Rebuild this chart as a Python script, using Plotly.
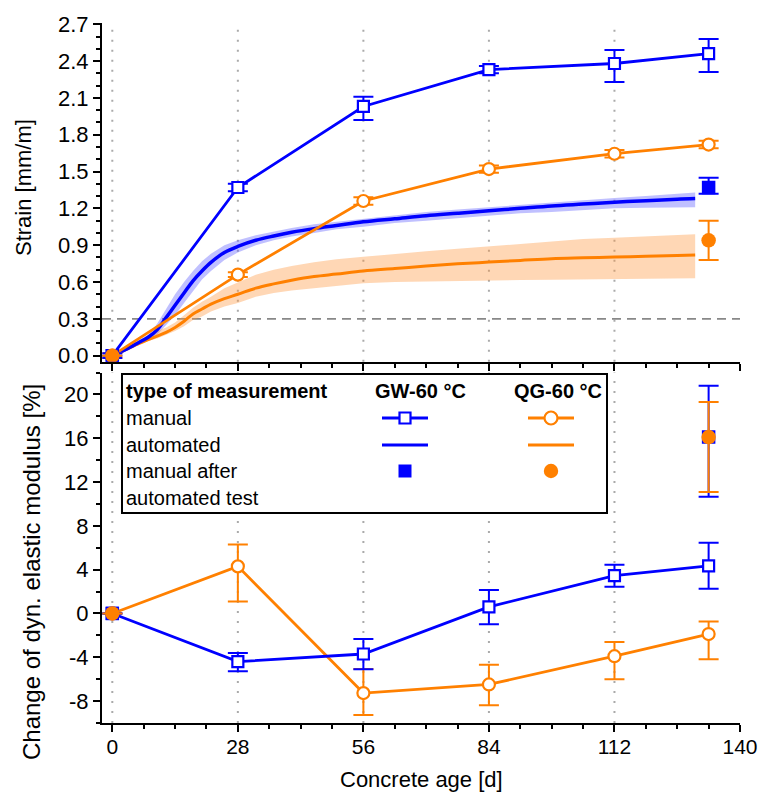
import plotly.graph_objects as go

# ---------------- data ----------------
manual_days = [0, 28, 56, 84, 112, 133]
gw_strain = [0.0, 1.37, 2.03, 2.33, 2.38, 2.46]
gw_strain_plus = [0.02, 0.03, 0.08, 0.03, 0.11, 0.12]
gw_strain_minus = [0.02, 0.03, 0.11, 0.03, 0.15, 0.15]
qg_strain = [0.0, 0.66, 1.26, 1.52, 1.645, 1.72]
qg_strain_err = [0.02, 0.02, 0.03, 0.03, 0.03, 0.03]

after_days = [0, 133]
gw_after_strain = [0.0, 1.37]
gw_after_strain_plus = [0.0, 0.08]
gw_after_strain_minus = [0.0, 0.05]
qg_after_strain = [0.0, 0.94]
qg_after_strain_err = [0.0, 0.16]

auto_days = [0, 3, 6, 8, 10, 12, 14, 16, 18, 20, 22, 25, 28, 32, 36, 40, 45, 50,
             56, 63, 70, 77, 84, 91, 98, 105, 112, 119, 126, 130]
gw_auto = [0.0, 0.05, 0.11, 0.15, 0.21, 0.31, 0.41, 0.51, 0.61, 0.69, 0.76, 0.84, 0.89,
           0.94, 0.975, 1.005, 1.035, 1.06, 1.09, 1.115, 1.14, 1.16, 1.18, 1.2, 1.22,
           1.235, 1.25, 1.262, 1.275, 1.28]
gw_auto_hi = [0.0, 0.06, 0.13, 0.17, 0.26, 0.38, 0.5, 0.6, 0.69, 0.77, 0.83, 0.9, 0.94,
              0.98, 1.01, 1.04, 1.07, 1.09, 1.12, 1.145, 1.17, 1.19, 1.21, 1.23, 1.25,
              1.27, 1.285, 1.3, 1.32, 1.33]
gw_auto_lo = [0.0, 0.04, 0.1, 0.14, 0.17, 0.25, 0.33, 0.43, 0.53, 0.62, 0.69, 0.78, 0.84,
              0.9, 0.94, 0.97, 1.0, 1.03, 1.05, 1.08, 1.1, 1.12, 1.14, 1.16, 1.17,
              1.185, 1.2, 1.205, 1.21, 1.21]
qg_auto = [0.0, 0.05, 0.1, 0.13, 0.16, 0.19, 0.23, 0.28, 0.34, 0.38, 0.42, 0.465, 0.5,
           0.55, 0.585, 0.615, 0.645, 0.665, 0.69, 0.71, 0.73, 0.748, 0.762, 0.776, 0.79,
           0.797, 0.803, 0.81, 0.816, 0.82]
qg_auto_hi = [0.0, 0.06, 0.12, 0.15, 0.2, 0.23, 0.27, 0.33, 0.39, 0.44, 0.48, 0.55, 0.6,
              0.66, 0.7, 0.73, 0.76, 0.785, 0.805, 0.83, 0.85, 0.87, 0.89, 0.91, 0.93,
              0.95, 0.96, 0.97, 0.98, 0.99]
qg_auto_lo = [0.0, 0.04, 0.09, 0.12, 0.14, 0.17, 0.2, 0.24, 0.29, 0.32, 0.36, 0.4, 0.43,
              0.48, 0.51, 0.53, 0.55, 0.57, 0.59, 0.6, 0.605, 0.61, 0.615, 0.616, 0.618,
              0.62, 0.625, 0.627, 0.63, 0.63]

gw_emod = [0.0, -4.4, -3.7, 0.6, 3.45, 4.35]
gw_emod_plus = [0.0, 0.8, 1.37, 1.55, 1.0, 2.1]
gw_emod_minus = [0.0, 0.87, 1.4, 1.58, 1.0, 2.1]
qg_emod = [0.0, 4.3, -7.27, -6.48, -3.9, -1.88]
qg_emod_plus = [0.0, 2.0, 2.2, 1.8, 1.3, 1.15]
qg_emod_minus = [0.0, 3.2, 2.0, 1.9, 2.1, 2.3]

gw_after_emod = [0.0, 16.1]
gw_after_emod_plus = [0.0, 4.7]
gw_after_emod_minus = [0.0, 5.45]
qg_after_emod = [0.0, 16.1]
qg_after_emod_plus = [0.0, 3.2]
qg_after_emod_minus = [0.0, 5.0]

day_ticks = [0, 28, 56, 84, 112, 140]
grid_days = [0, 28, 56, 84, 112]
emod_ticks = [-8, -4, 0, 4, 8, 12, 16, 20]
emod_ticktext = ["-8", "-4", "0", "4", "8", "12", "16", "20"]
emod_minor = [-10, -6, -2, 2, 6, 10, 14, 18, 22]
threshold = 0.3

# ---------------- style ----------------
BLUE = "#0000FF"
ORANGE = "#FF8000"
FONT = "Liberation Sans, Arial, sans-serif"

fig = go.Figure()

# top panel: bands
fig.add_trace(go.Scatter(x=auto_days, y=gw_auto_lo, mode="lines", line=dict(width=0),
                         showlegend=False, xaxis="x2", yaxis="y2", hoverinfo="skip"))
fig.add_trace(go.Scatter(x=auto_days, y=gw_auto_hi, mode="lines", line=dict(width=0),
                         fill="tonexty", fillcolor="rgba(90,90,255,0.38)",
                         showlegend=False, xaxis="x2", yaxis="y2", hoverinfo="skip"))
fig.add_trace(go.Scatter(x=auto_days, y=qg_auto_lo, mode="lines", line=dict(width=0),
                         showlegend=False, xaxis="x2", yaxis="y2", hoverinfo="skip"))
fig.add_trace(go.Scatter(x=auto_days, y=qg_auto_hi, mode="lines", line=dict(width=0),
                         fill="tonexty", fillcolor="rgba(255,150,60,0.38)",
                         showlegend=False, xaxis="x2", yaxis="y2", hoverinfo="skip"))
# automated lines
fig.add_trace(go.Scatter(x=auto_days, y=qg_auto, mode="lines",
                         line=dict(color=ORANGE, width=3, shape="spline"),
                         showlegend=False, xaxis="x2", yaxis="y2"))
fig.add_trace(go.Scatter(x=auto_days, y=gw_auto, mode="lines",
                         line=dict(color=BLUE, width=3.5, shape="spline"),
                         showlegend=False, xaxis="x2", yaxis="y2"))


def manual_trace(x, y, color, symbol, size, plus, minus, xa, ya):
    ed = dict(type="data", symmetric=False, array=plus, arrayminus=minus,
              color=color, thickness=2, width=10, visible=True)
    return go.Scatter(x=x, y=y, mode="lines+markers",
                      line=dict(color=color, width=2.8),
                      marker=dict(symbol=symbol, size=size, color="white",
                                  line=dict(color=color, width=2.2)),
                      error_y=ed, showlegend=False, xaxis=xa, yaxis=ya)


def after_trace(x, y, color, symbol, size, plus, minus, xa, ya):
    return go.Scatter(x=x, y=y, mode="markers",
                      marker=dict(symbol=symbol, size=size, color=color,
                                  line=dict(width=0)),
                      error_y=dict(type="data", symmetric=False, array=plus,
                                   arrayminus=minus, color=color, thickness=2, width=10),
                      showlegend=False, xaxis=xa, yaxis=ya)


fig.add_trace(manual_trace(manual_days, qg_strain, ORANGE, "circle", 12,
                           qg_strain_err, qg_strain_err, "x2", "y2"))
fig.add_trace(manual_trace(manual_days, gw_strain, BLUE, "square", 11,
                           gw_strain_plus, gw_strain_minus, "x2", "y2"))
fig.add_trace(after_trace(after_days, gw_after_strain, BLUE, "square", 13.5,
                          gw_after_strain_plus, gw_after_strain_minus, "x2", "y2"))
fig.add_trace(after_trace(after_days, qg_after_strain, ORANGE, "circle", 14.5,
                          qg_after_strain_err, qg_after_strain_err, "x2", "y2"))

# bottom panel
fig.add_trace(manual_trace(manual_days, qg_emod, ORANGE, "circle", 12,
                           qg_emod_plus, qg_emod_minus, "x", "y"))
fig.add_trace(manual_trace(manual_days, gw_emod, BLUE, "square", 11,
                           gw_emod_plus, gw_emod_minus, "x", "y"))
fig.add_trace(after_trace(after_days, gw_after_emod, BLUE, "square", 13.5,
                          gw_after_emod_plus, gw_after_emod_minus, "x", "y"))
fig.add_trace(after_trace(after_days, qg_after_emod, ORANGE, "circle", 14.5,
                          qg_after_emod_plus, qg_after_emod_minus, "x", "y"))

# ---------------- geometry helpers (pixel -> paper) ----------------
L, R, T, B = 102, 18, 23, 70
W, H = 758, 793
PW, PH = W - L - R, H - T - B


def px(p):
    return (p - L) / PW


def py(p):
    return (H - B - p) / PH


axis_common = dict(showline=True, linecolor="black", linewidth=2, ticks="outside",
                   tickcolor="black", tickwidth=2, ticklen=7, showgrid=False,
                   zeroline=False, mirror=False)

x_range = [-2.3, 140.0]
fig.update_layout(
    width=W, height=H,
    margin=dict(l=L, r=R, t=T, b=B, pad=0, autoexpand=False),
    plot_bgcolor="white", paper_bgcolor="white",
    font=dict(family=FONT, size=22, color="black"),
    showlegend=False,
    xaxis=dict(range=x_range, tickvals=day_ticks, anchor="y",
               ticklabelstandoff=-3,
               minor=dict(dtick=7, tick0=0, ticks="outside", ticklen=4, tickwidth=2,
                          tickcolor="black", showgrid=False),
               tickfont=dict(size=21), **axis_common),
    xaxis2=dict(range=x_range, tickvals=day_ticks, anchor="y2", matches="x",
                showticklabels=False,
                minor=dict(dtick=7, tick0=0, ticks="outside", ticklen=4, tickwidth=2,
                           tickcolor="black", showgrid=False),
                **axis_common),
    yaxis=dict(domain=[0, py(372.5)], range=[-10, 22], tickvals=emod_ticks,
               ticktext=emod_ticktext, anchor="x",
               minor=dict(tickvals=emod_minor, ticks="outside", ticklen=4, tickwidth=2,
                          tickcolor="black", showgrid=False),
               tickfont=dict(size=22), **axis_common),
    yaxis2=dict(domain=[py(361.8), 1], range=[-0.05, 2.71], dtick=0.3, tick0=0,
                tickformat=".1f", anchor="x2",
                minor=dict(dtick=0.1, tick0=0, ticks="outside", ticklen=4, tickwidth=2,
                           tickcolor="black", showgrid=False),
                tickfont=dict(size=22), **axis_common),
)

shapes = []
for d in grid_days:
    for xr, yr in (("x", "y domain"), ("x2", "y2 domain")):
        shapes.append(dict(type="line", xref=xr, yref=yr, x0=d, x1=d, y0=0, y1=1,
                           line=dict(color="#aaaaaa", width=2, dash="2px,8px"), layer="below"))
shapes.append(dict(type="line", xref="x2 domain", yref="y2", x0=0, x1=1,
                   y0=threshold, y1=threshold,
                   line=dict(color="#888888", width=1.6, dash="9px,6px"), layer="below"))

# legend box
shapes.append(dict(type="rect", xref="paper", yref="paper", x0=px(122), x1=px(607),
                   y0=py(513), y1=py(374), fillcolor="white",
                   line=dict(color="black", width=2), layer="above"))
row_y = [418, 445, 471, 498]
gw_cx, qg_cx = 405, 551
for cx, col in ((gw_cx, BLUE), (qg_cx, ORANGE)):
    for ry, lw in ((row_y[0], 2.8), (row_y[1], 3)):
        shapes.append(dict(type="line", xref="paper", yref="paper", x0=px(cx - 23), x1=px(cx + 23),
                           y0=py(ry), y1=py(ry), line=dict(color=col, width=lw), layer="above"))
shapes.append(dict(type="rect", xref="paper", yref="paper", x0=px(gw_cx - 5.5), x1=px(gw_cx + 5.5),
                   y0=py(row_y[0] + 5.5), y1=py(row_y[0] - 5.5), fillcolor="white",
                   line=dict(color=BLUE, width=2.2), layer="above"))
shapes.append(dict(type="rect", xref="paper", yref="paper", x0=px(gw_cx - 6.5), x1=px(gw_cx + 6.5),
                   y0=py(row_y[2] + 6.5), y1=py(row_y[2] - 6.5), fillcolor=BLUE,
                   line=dict(width=0), layer="above"))
shapes.append(dict(type="circle", xref="paper", yref="paper", x0=px(qg_cx - 6.5), x1=px(qg_cx + 6.5),
                   y0=py(row_y[0] + 6.5), y1=py(row_y[0] - 6.5), fillcolor="white",
                   line=dict(color=ORANGE, width=2.2), layer="above"))
shapes.append(dict(type="circle", xref="paper", yref="paper", x0=px(qg_cx - 7.2), x1=px(qg_cx + 7.2),
                   y0=py(row_y[2] + 7.2), y1=py(row_y[2] - 7.2), fillcolor=ORANGE,
                   line=dict(width=0), layer="above"))

annotations = []


def ann(text, x, y, xanchor="left", size=20, angle=0):
    annotations.append(dict(text=text, xref="paper", yref="paper", x=px(x), y=py(y),
                            xanchor=xanchor, yanchor="middle", showarrow=False,
                            textangle=angle, font=dict(family=FONT, size=size, color="black")))


ann("<b>type of measurement</b>", 124, 391)
ann("<b>GW-60 °C</b>", 420, 391, xanchor="center")
ann("<b>QG-60 °C</b>", 558, 391, xanchor="center")
ann("manual", 124, row_y[0])
ann("automated", 124, row_y[1])
ann("manual after", 124, row_y[2])
ann("automated test", 124, row_y[3])

# axis titles
ann("Strain [mm/m]", 23, 188, xanchor="center", size=22, angle=-90)
ann("Change of dyn. elastic modulus [%]", 31, 572, xanchor="center", size=24, angle=-90)
ann("Concrete age [d]", 421, 779, xanchor="center", size=22)

fig.update_layout(shapes=shapes, annotations=annotations)

fig.write_html("out.html", config={"displayModeBar": False},
               post_script="document.body.style.margin='0';document.body.style.overflow='hidden';")
